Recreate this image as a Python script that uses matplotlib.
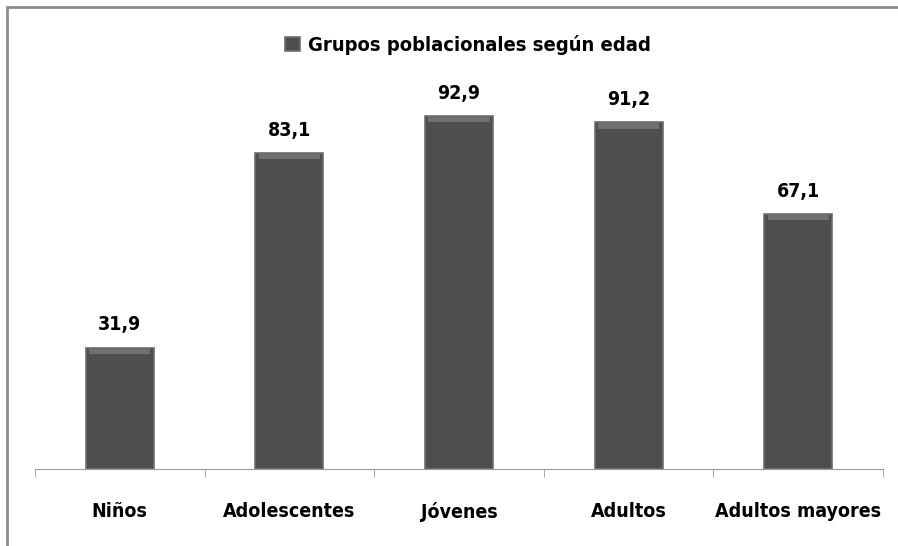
import matplotlib
matplotlib.use('Agg')
import matplotlib.pyplot as plt
from matplotlib import font_manager
import numpy as np
from matplotlib.patches import Rectangle

# datos
grupos = ['Niños', 'Adolescentes', 'Jóvenes', 'Adultos', 'Adultos mayores']
valores = [31.9, 83.1, 92.9, 91.2, 67.1]
serie = 'Grupos poblacionales según edad'

fp = dict(family='DejaVu Sans', stretch='condensed', weight='bold')

fig = plt.figure(figsize=(8.98, 5.46), dpi=100)
fig.patch.set_facecolor('white')

# marco gris del grafico
fig.patches.append(Rectangle((7 / 898, -0.1), 1.2, 1 - 7 / 546 + 0.1, transform=fig.transFigure,
                             fill=False, edgecolor='#8c8c8c', linewidth=2))

ax = fig.add_axes([35 / 898, 77 / 546, 848 / 898, 380 / 546])
x = np.arange(len(grupos))
bars = ax.bar(x, valores, width=0.4, color='#4e4e4e', edgecolor='#6e6e6e', linewidth=1.2,
              label=serie, zorder=2)
# brillo superior (bisel)
ax.bar(x, [1.4] * len(valores), bottom=np.array(valores) - 1.6, width=0.36,
       color='#707070', linewidth=0, zorder=3)

for xi, v in zip(x, valores):
    ax.text(xi, v + 3.5, f'{v:.1f}'.replace('.', ','), ha='center', va='bottom',
            fontsize=14, **fp)

ax.set_xlim(-0.5, len(grupos) - 0.5)
ax.set_ylim(0, 100)
ax.set_yticks([])
for s in ['top', 'right', 'left']:
    ax.spines[s].set_visible(False)
ax.spines['bottom'].set_color('#9a9a9a')

ax.set_xticks(x)
ax.set_xticklabels(grupos, fontsize=14, **fp)
ax.tick_params(axis='x', which='major', length=0, pad=24)
ax.set_xticks(np.arange(len(grupos) + 1) - 0.5, minor=True)
ax.tick_params(axis='x', which='minor', length=6, color='#9a9a9a')

leg = fig.legend(handles=[bars], labels=[serie], loc='center', bbox_to_anchor=(468 / 898, 1 - 45 / 546),
                 frameon=False, handlelength=0.7, handleheight=0.7, handletextpad=0.4,
                 prop=font_manager.FontProperties(size=14.5, **fp))

plt.savefig('out.png', dpi=100)
